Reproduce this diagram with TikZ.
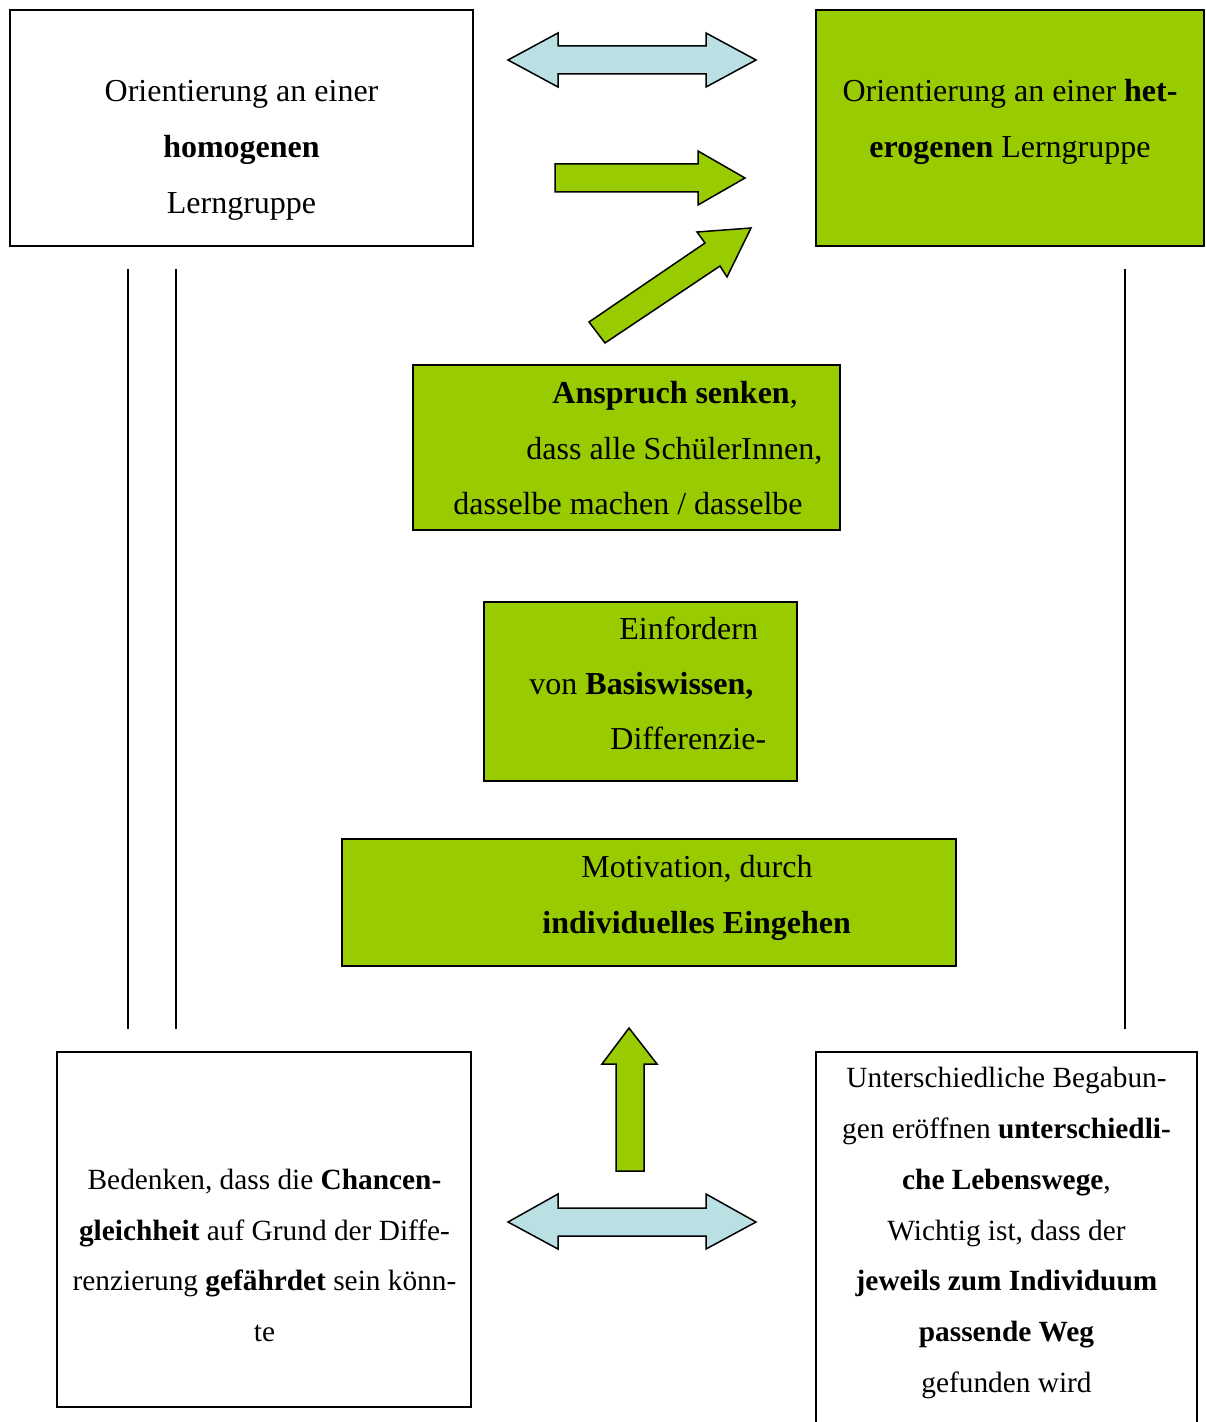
\documentclass[tikz,border=0pt]{standalone}
\usepackage{fontspec}
\setmainfont{Liberation Serif}
\definecolor{leaf}{RGB}{153,204,0}
\definecolor{pale}{RGB}{187,224,227}
\begin{document}
\begin{tikzpicture}[x=0.5pt,y=-0.5pt,
  frame/.style={draw=black,line width=1pt},
  big/.style={font=\fontsize{16}{28}\selectfont},
  small/.style={font=\fontsize{14.67}{25.4}\selectfont},
  textline/.style={anchor=base west,inner sep=0pt,big},
  block/.style={align=center,inner sep=0pt},
  blockarrow/.style={draw=black,line width=0.75pt,line join=miter},
  rule/.style={draw=black,line width=0.8pt}]
\useasboundingbox (0,0) rectangle (1206,1422);
\clip (0,0) rectangle (1206,1422);
\fill[white] (0,0) rectangle (1206,1422);

% boxes
\draw[frame] (10,10) rectangle (473,246);
\filldraw[frame,fill=leaf] (816,10) rectangle (1204,246);
\filldraw[frame,fill=leaf] (413,365) rectangle (840,530);
\filldraw[frame,fill=leaf] (484,602) rectangle (797,781);
\filldraw[frame,fill=leaf] (342,839) rectangle (956,966);
\draw[frame] (57,1052) rectangle (471,1407);
\draw[frame] (816,1052) rectangle (1197,1440);

% texts
\node[block,big] (homo) at (241.5,150)
  {Orientierung an einer\\ \textbf{homogenen}\\ Lerngruppe};
\node[block,big] (hetero) at (1010,121.5)
  {Orientierung an einer \textbf{het-}\\ \textbf{erogenen} Lerngruppe};

\node[textline] (ans1) at (552,404) {\textbf{Anspruch senken},};
\node[textline] (ans2) at (526,459) {dass alle SchülerInnen,};
\node[textline] (ans3) at (453,514) {dasselbe machen / dasselbe};

\node[textline] (ein1) at (619,639.5) {Einfordern};
\node[textline] (ein2) at (529,694.5) {von \textbf{Basiswissen,}};
\node[textline] (ein3) at (610,749.5) {Differenzie-};

\node[textline] (mot1) at (581,877) {Motivation, durch};
\node[textline] (mot2) at (542,933) {\textbf{individuelles Eingehen}};

\node[block,small] (bedenken) at (264.5,1255.5)
  {Bedenken, dass die \textbf{Chancen-}\\
   \textbf{gleichheit} auf Grund der Diffe-\\
   renzierung \textbf{gefährdet} sein könn-\\
   te};
\node[block,small] (begabung) at (1006.5,1233)
  {Unterschiedliche Begabun-\\
   gen eröffnen \textbf{unterschiedli-}\\
   \textbf{che Lebenswege},\\
   Wichtig ist, dass der\\
   \textbf{jeweils zum Individuum}\\
   \textbf{passende Weg}\\
   gefunden wird};

% vertical rules
\coordinate (l1t) at (128,269); \coordinate (l1b) at (128,1029);
\coordinate (l2t) at (176,269); \coordinate (l2b) at (176,1029);
\coordinate (r1t) at (1125,269); \coordinate (r1b) at (1125,1029);
\draw[rule] (l1t) -- (l1b);
\draw[rule] (l2t) -- (l2b);
\draw[rule] (r1t) -- (r1b);

% block arrows
\filldraw[blockarrow,fill=pale] (508,60) -- (558,33) -- (558,46) -- (706,46)
  -- (706,33) -- (756,60) -- (706,87) -- (706,74) -- (558,74) -- (558,87) -- cycle;
\filldraw[blockarrow,fill=leaf] (555,164) -- (698,164) -- (698,151) -- (745,178)
  -- (698,205) -- (698,192) -- (555,192) -- cycle;
\filldraw[blockarrow,fill=leaf] (589,322) -- (705,243) -- (697,232) -- (751,228)
  -- (727,277) -- (720,266) -- (605,343) -- cycle;
\filldraw[blockarrow,fill=leaf] (616,1171) -- (616,1064) -- (602,1064) -- (629,1028)
  -- (657,1064) -- (644,1064) -- (644,1171) -- cycle;
\filldraw[blockarrow,fill=pale] (508,1222) -- (558,1194) -- (558,1208) -- (706,1208)
  -- (706,1194) -- (756,1222) -- (706,1249) -- (706,1236) -- (558,1236) -- (558,1249) -- cycle;
\end{tikzpicture}
\end{document}
